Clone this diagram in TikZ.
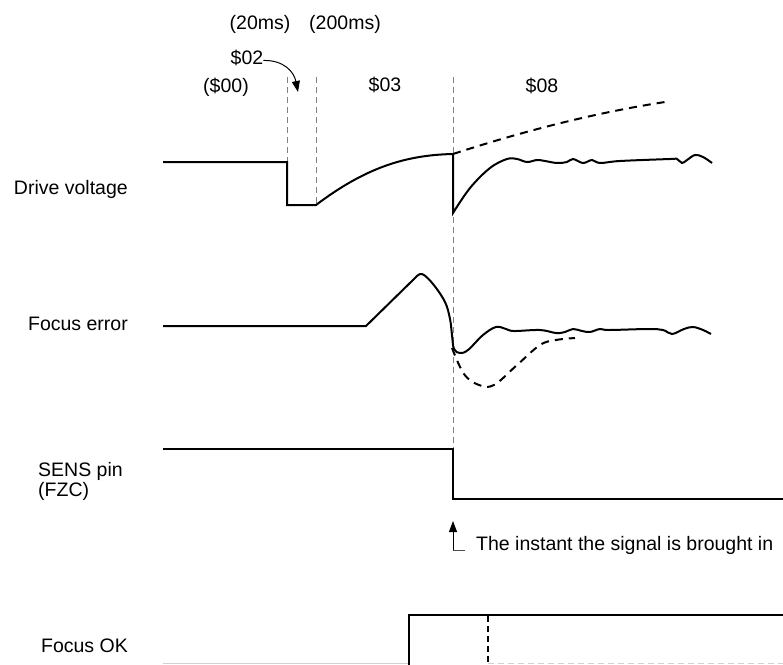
\documentclass[tikz,border=0pt]{standalone}
\usepackage{fontspec}
\setmainfont{Liberation Sans}
\usetikzlibrary{arrows.meta}
\begin{document}
\begin{tikzpicture}[x=1pt,y=-1pt,
  lbl/.style={inner sep=0pt, font=\fontsize{19.5}{22}\selectfont},
  wave/.style={line width=2pt, line join=miter},
  guide/.style={black!50, line width=0.9pt, dash pattern=on 6pt off 4pt},
  dashwave/.style={line width=2pt, dash pattern=on 8pt off 6pt},
  faint/.style={black!18, line width=1pt},
  tip/.style={-{Triangle[length=11pt,width=8pt]}}]
\useasboundingbox (0,0) rectangle (783,664);

% signal labels
\node[lbl, anchor=base east] (dv) at (128,194) {Drive voltage};
\node[lbl, anchor=base east] (fe) at (128,330) {Focus error};
\node[lbl, anchor=base west] (sens) at (38,476) {SENS pin};
\node[lbl, anchor=base west] (fzc) at (38,496) {(FZC)};
\node[lbl, anchor=base east] (fok) at (128,652) {Focus OK};

% top labels
\node[lbl, anchor=base] (t20) at (260,29) {(20ms)};
\node[lbl, anchor=base] (t200) at (345,29) {(200ms)};
\node[lbl, anchor=base] (s02) at (247,64) {\$02};
\node[lbl, anchor=base] (s00) at (226,92) {(\$00)};
\node[lbl, anchor=base] (s03) at (385,91) {\$03};
\node[lbl, anchor=base] (s08) at (542,92) {\$08};

\coordinate (a02) at (298,92);
\draw[line width=1pt, tip] ([yshift=-3pt]s02.east) .. controls (284,60) and (294,72) .. (a02);

% guide lines
\draw[guide] (287,77) -- (287,162);
\draw[guide] (316,77) -- (316,205);
\draw[guide] (453,77) -- (453,449);

% drive voltage
\draw[wave] (163,162) -- (287,162) -- (287,205) -- (316,205)
  .. controls (365,168) and (405,155) .. (453,154) -- (453,213)
  -- plot[smooth, tension=0.6] coordinates {(453,213) (470,188) (490,168) (507,159) (517,159) (527,162) (537,160) (545,161) (557,163) (567,162) (573,159) (583,163) (592,160) (600,163) (620,161) (670,159) (677,159) (682,163) (687,160) (695,155) (703,157) (712,163)};
\draw[dashwave] (453,154) .. controls (530,129) and (600,112) .. (665,102);

% focus error
\draw[wave] (163,326) -- (366,326) -- (415,278)
  -- plot[smooth, tension=0.6] coordinates {(415,278) (422,274) (433,284) (445,302) (450,319) (452,335) (454,349) (460,353) (468,350) (483,335) (496,327) (506,329) (514,331) (540,330) (556,333) (565,332) (573,329) (582,331) (590,332) (600,329) (609,330) (648,329) (663,330) (672,334) (684,329) (693,327) (703,330) (711,334)};
\draw[dashwave] plot[smooth, tension=0.6] coordinates {(452,348) (464,374) (479,385) (494,385) (517,365) (540,345) (556,340) (575,338)};

% SENS pin
\draw[wave] (163,449) -- (453,449) -- (453,499) -- (783,499);

% instant marker
\node[lbl, anchor=west] (inst) at (476,545) {The instant the signal is brought in};
\draw[line width=0.8pt, black!70] (inst.west) ++(-11,5) coordinate (ib) -- (453,550) coordinate (ic);
\draw[line width=0.9pt, black, tip] (ic) -- (453,521);

% focus OK
\draw[faint] (163,663) -- (409,663);
\draw[faint, dash pattern=on 6pt off 4pt] (488,663) -- (783,663);
\draw[wave] (409,665) -- (409,615) -- (783,615);
\draw[line width=1.6pt, dash pattern=on 6pt off 4pt] (488,616) -- (488,664);
\end{tikzpicture}
\end{document}
